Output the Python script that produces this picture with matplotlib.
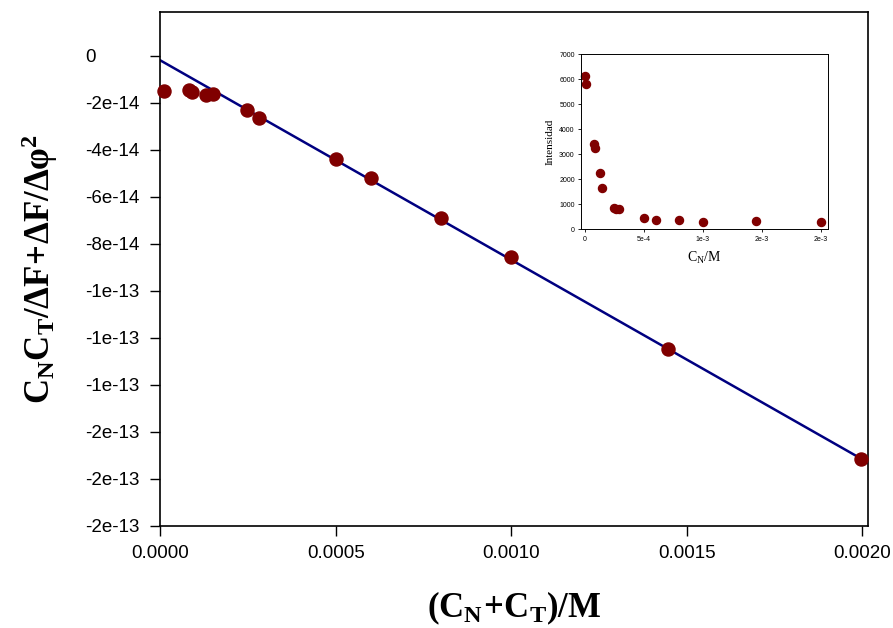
import matplotlib
matplotlib.use("Agg")
import matplotlib.pyplot as plt
import numpy as np

plt.rcParams['font.family'] = ['Liberation Sans', 'DejaVu Sans']
plt.rcParams['mathtext.fontset'] = 'custom'
plt.rcParams['mathtext.rm'] = 'Liberation Serif'
plt.rcParams['mathtext.it'] = 'Liberation Serif:italic'
plt.rcParams['mathtext.bf'] = 'Liberation Serif:bold'

# main plot: (C_N + C_T) vs C_N C_T / dF + dF / dphi^2
conc = [0.0000103, 0.0000815, 0.0000909, 0.000130, 0.000149, 0.000246, 0.000281,
        0.000500, 0.000600, 0.000800, 0.001000, 0.001448, 0.001998]
yval = [-1.50e-14, -1.46e-14, -1.56e-14, -1.67e-14, -1.64e-14, -2.32e-14, -2.64e-14,
        -4.40e-14, -5.21e-14, -6.91e-14, -8.57e-14, -1.249e-13, -1.715e-13]

# linear fit
fit_intercept = -2.0e-15
fit_slope = -8.485e-11
fit_x = [0.0, 0.002017]

y_ticks = [0, -2e-14, -4e-14, -6e-14, -8e-14, -1.0e-13, -1.2e-13, -1.4e-13,
           -1.6e-13, -1.8e-13, -2.0e-13]
y_ticklabels = ['0', '-2e-14', '-4e-14', '-6e-14', '-8e-14', '-1e-13', '-1e-13',
                '-1e-13', '-2e-13', '-2e-13', '-2e-13']
x_ticks = [0.0, 0.0005, 0.0010, 0.0015, 0.0020]
x_ticklabels = ['0.0000', '0.0005', '0.0010', '0.0015', '0.0020']

# inset: intensity vs C_N
ins_conc = [0.0, 0.000011, 0.000076, 0.000087, 0.000130, 0.000144, 0.000245, 0.000262,
            0.000285, 0.000499, 0.000600, 0.000800, 0.001000, 0.001448, 0.002000]
ins_int = [6147, 5813, 3413, 3240, 2240, 1640, 867, 827, 800, 467, 387, 360, 293, 320, 293]
ins_xticks = [0.0, 0.0005, 0.0010, 0.0015, 0.0020]
ins_xticklabels = ['0', '5e-4', '1e-3', '2e-3', '2e-3']
ins_yticks = [0, 1000, 2000, 3000, 4000, 5000, 6000, 7000]

red = '#800000'
navy = '#000080'

fig = plt.figure(figsize=(8.93, 6.28), dpi=100)
ax = fig.add_axes([0.1796, 0.1629, 0.7924, 0.818])

fx = np.array(fit_x)
ax.plot(fx, fit_intercept + fit_slope * fx, color=navy, lw=1.8, zorder=2)
ax.plot(conc, yval, 'o', color=red, ms=9.4, mec=red, zorder=3, clip_on=False)

ax.set_xlim(0, 0.002017)
ax.set_ylim(-2e-13, 1.86e-14)
ax.set_xticks(x_ticks)
ax.set_xticklabels(x_ticklabels)
ax.set_yticks(y_ticks)
ax.set_yticklabels(y_ticklabels, ha='left')
ax.tick_params(direction='out', length=7, width=1, labelsize=13.5)
ax.tick_params(axis='x', pad=7)
ax.tick_params(axis='y', pad=47)
for s in ax.spines.values():
    s.set_linewidth(1.2)

ax.set_xlabel(r'$\mathbf{(C_N\!+\!C_T)/M}$', fontsize=25, labelpad=20)
ax.set_ylabel(r'$\mathbf{C_N C_T/ΔF\!+\!ΔF/Δφ^2}$', fontsize=25, labelpad=18)

# inset
ins = fig.add_axes([0.6506, 0.6349, 0.2766, 0.2786])
ins.plot(ins_conc, ins_int, 'o', color=red, ms=5.8, mec=red, clip_on=False)
ins.set_xlim(-0.0000339, 0.002059)
ins.set_ylim(0, 7000)
ins.set_xticks(ins_xticks)
ins.set_xticklabels(ins_xticklabels)
ins.set_yticks(ins_yticks)
ins.tick_params(direction='out', length=2.5, width=0.6, labelsize=5, pad=2)
for s in ins.spines.values():
    s.set_linewidth(0.7)
ins.set_xlabel(r'$\mathrm{C_N/M}$', fontsize=10, labelpad=5)
ins.set_ylabel('Intensidad', fontsize=8, family='Liberation Serif', labelpad=3)

fig.savefig('out.png', dpi=100)
